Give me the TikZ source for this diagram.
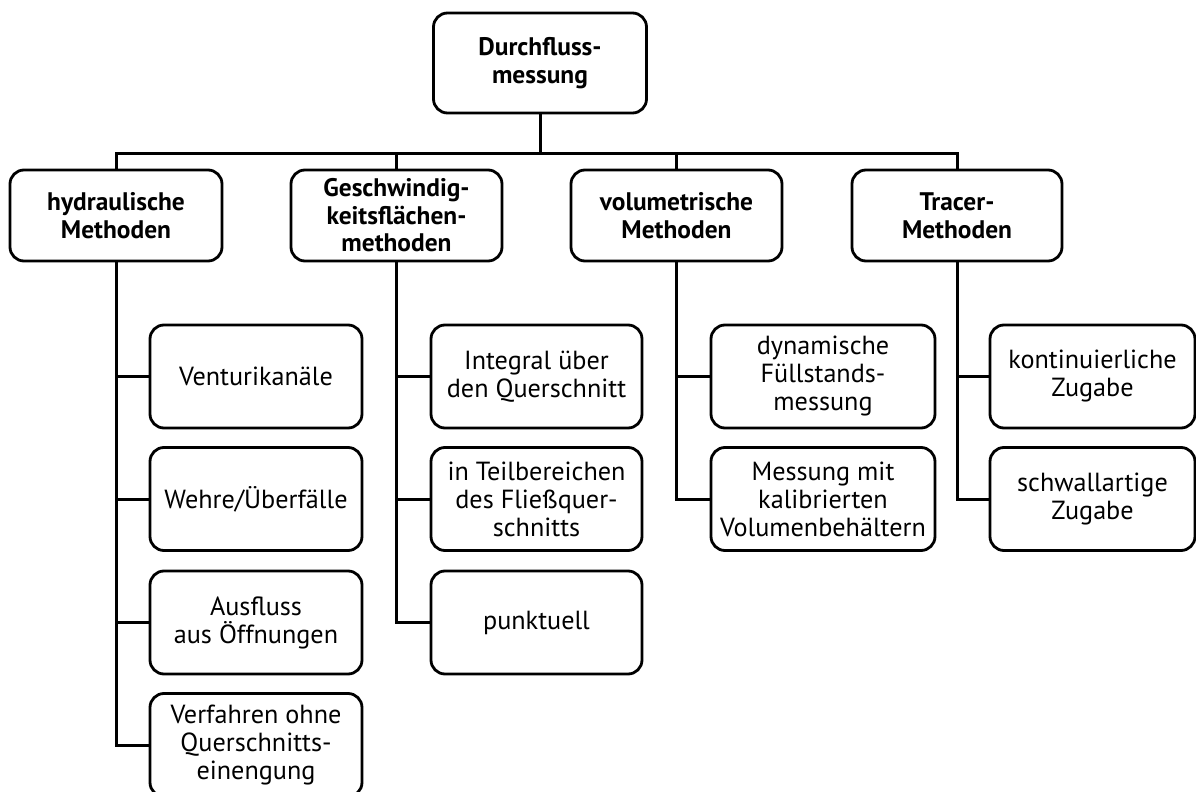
\documentclass[tikz,border=0pt]{standalone}
\usepackage{fontspec}
\setmainfont{PT Sans}
\usepackage{tikz}
\usetikzlibrary{arrows, arrows.meta}
\tikzset{box/.style = {shape = rectangle, draw, line width = 1.4pt, rounded corners = 7pt, align = center, inner sep = 0pt, font = \fontsize{13.1}{14}\selectfont}}
\tikzset{head/.style = {box, font = \fontsize{12.7}{13.8}\selectfont\bfseries, minimum height = 45.5pt}}
\tikzset{leaf/.style = {box, minimum height = 51.5pt}}
\tikzset{edge/.style = {-, line width = 1.5pt}}

\begin{document}
\begin{tikzpicture}[x = 0.5pt, y = -0.5pt]
				\useasboundingbox (0, 0) rectangle (1196, 792);

				\node[head, minimum width = 106.5pt, minimum height = 50pt] (root) at (540, 63) {Durchfluss-\\messung};

				\node[head, minimum width = 106pt] (hyd) at (116, 215.5) {hydraulische\\Methoden};
				\node[head, minimum width = 105.5pt] (geo) at (396.5, 215.5) {Geschwindig-\\keitsflächen-\\methoden};
				\node[head, minimum width = 105.5pt] (vol) at (676.5, 215.5) {volumetrische\\Methoden};
				\node[head, minimum width = 105pt] (tra) at (957, 215.5) {Tracer-\\Methoden};

				\node[leaf, minimum width = 106pt] (h1) at (256, 376.5) {Venturikanäle};
				\node[leaf, minimum width = 106pt] (h2) at (256, 499) {Wehre/Überfälle};
				\node[leaf, minimum width = 106pt] (h3) at (256, 622.5) {Ausfluss\\aus Öffnungen};
				\node[leaf, minimum width = 106pt] (h4) at (256, 745) {Verfahren ohne\\Querschnitts-\\einengung};

				\node[leaf, minimum width = 105.5pt] (g1) at (536.5, 376.5) {Integral über\\den Querschnitt};
				\node[leaf, minimum width = 105.5pt] (g2) at (536.5, 499) {in Teilbereichen\\des Fließquer-\\schnitts};
				\node[leaf, minimum width = 105.5pt] (g3) at (536.5, 622.5) {punktuell};

				\node[leaf, minimum width = 112pt] (v1) at (823, 376.5) {dynamische\\Füllstands-\\messung};
				\node[leaf, minimum width = 112pt] (v2) at (823, 499) {Messung mit\\kalibrierten\\Volumenbehältern};

				\node[leaf, minimum width = 102.5pt] (t1) at (1092.5, 376.5) {kontinuierliche\\Zugabe};
				\node[leaf, minimum width = 102.5pt] (t2) at (1092.5, 499) {schwallartige\\Zugabe};

				\coordinate (bus) at (540, 153.5);

				\draw[edge] (root) -- (bus);
				\draw[edge] (bus) -| (hyd);
				\draw[edge] (bus) -| (geo);
				\draw[edge] (bus) -| (vol);
				\draw[edge] (bus) -| (tra);

				\foreach \c in {h1, h2, h3, h4}
					\draw[edge] (hyd) |- (\c);
				\foreach \c in {g1, g2, g3}
					\draw[edge] (geo) |- (\c);
				\foreach \c in {v1, v2}
					\draw[edge] (vol) |- (\c);
				\foreach \c in {t1, t2}
					\draw[edge] (tra) |- (\c);
			\end{tikzpicture}
\end{document}
